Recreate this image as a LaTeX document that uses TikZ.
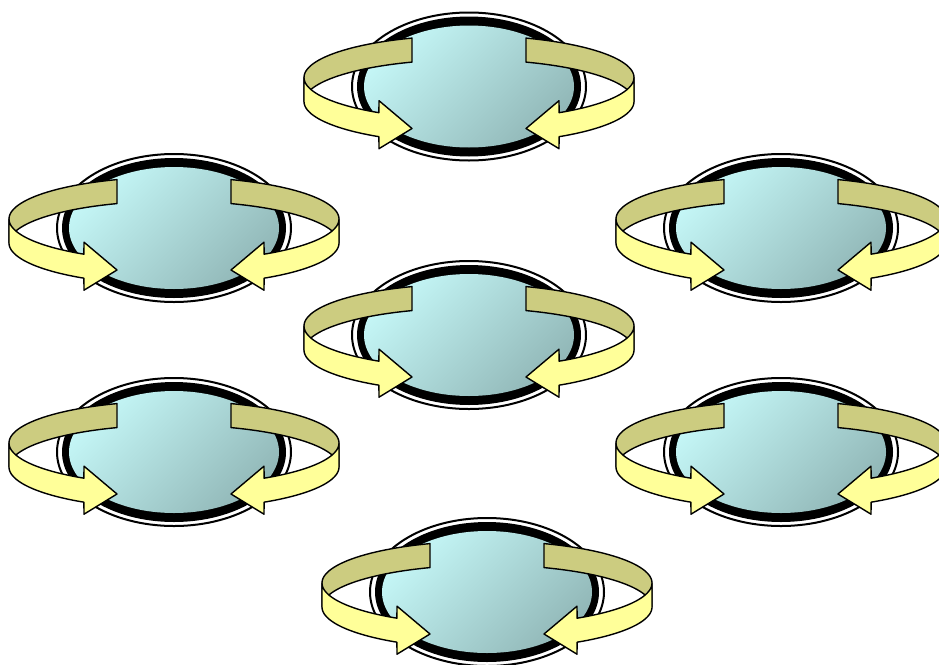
\documentclass[tikz,border=0pt]{standalone}
\usepackage{xcolor}
\usepackage{tikz}

\definecolor{tealhi}{RGB}{196,246,246}
\definecolor{tealdk}{RGB}{146,184,184}
\definecolor{bandback}{RGB}{204,204,128}
\definecolor{bandfront}{RGB}{255,255,153}

\begin{document}
\begin{tikzpicture}[x=1pt,y=-1pt,line join=round,
  backband/.style={fill=bandback,draw=black,line width=1.4},
  frontband/.style={fill=bandfront,draw=black,line width=1.4}]
\useasboundingbox (0,0) rectangle (939,664);
\clip (0,0) rectangle (939,664);
\foreach \cx/\cy in {469/86.5,174/228,781/228,469/335,174/452,781/452,487/592}{
\begin{scope}[shift={(\cx,\cy)}]
\filldraw[fill=white,draw=black,line width=2] (0,0) ellipse (117 and 74);
\fill[black] (0,0) ellipse (112 and 70);
\shade[top color=tealhi,bottom color=tealdk,shading angle=45] (0,0) ellipse (105 and 61);
\foreach \s in {1,-1}{
\begin{scope}[xscale=\s]
\filldraw[backband] plot[domain=110.2:180,samples=40] ({165*cos(\x)},{-9-42*sin(\x)})
  -- plot[domain=180:110.2,samples=40] ({165*cos(\x)},{15-42*sin(\x)}) -- cycle;
\filldraw[frontband] plot[domain=180:236.9,samples=40] ({165*cos(\x)},{-9-42*sin(\x)})
  -- (-90,{-21-42*sin(236.9)}) -- (-57,42) -- (-90,{27-42*sin(236.9)})
  -- plot[domain=236.9:180,samples=40] ({165*cos(\x)},{15-42*sin(\x)}) -- cycle;
\end{scope}
}
\end{scope}
}
\end{tikzpicture}
\end{document}
